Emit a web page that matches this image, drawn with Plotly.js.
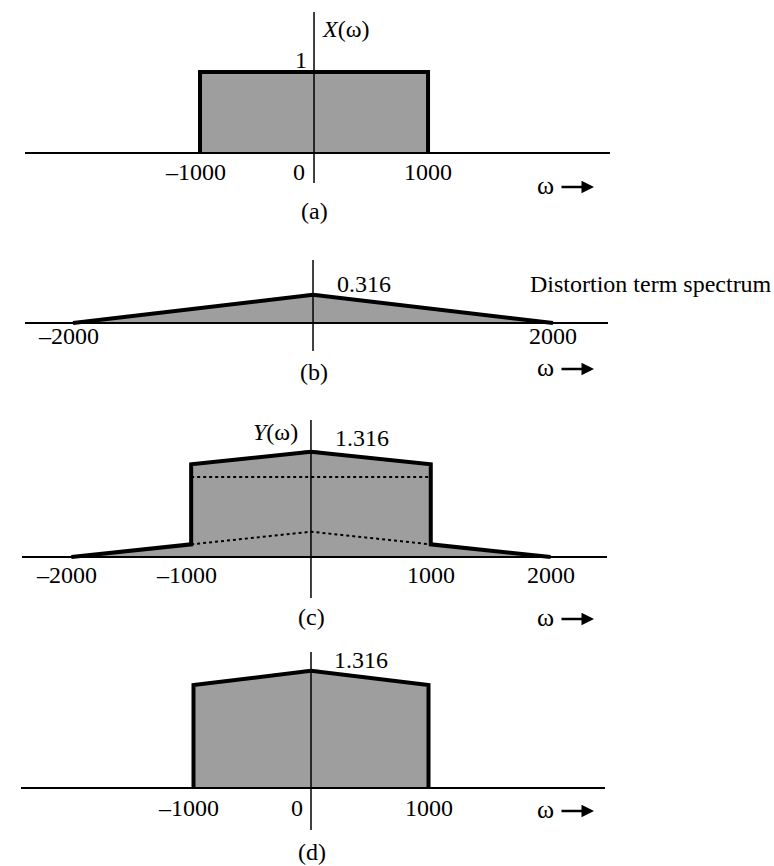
<!DOCTYPE html>
<html><head><meta charset="utf-8">
<script src="https://cdn.plot.ly/plotly-3.0.1.min.js"></script>
<style>html,body{margin:0;padding:0;background:#fff}</style>
</head><body><div id="chart" style="width:774px;height:866px"></div>
<script>
// ---- data ----
const omegaA = [-1000, -1000, 1000, 1000];
const magA   = [0, 1, 1, 0];
const omegaB = [-2000, 0, 2000];
const magB   = [0, 0.316, 0];
const omegaC = [-2000, -1000, -1000, 0, 1000, 1000, 2000];
const magC   = [0, 0.158, 1.158, 1.316, 1.158, 0.158, 0];
const omegaCTop = [-1000, 1000];
const magCTop   = [1, 1];
const omegaCTri = [-1000, 0, 1000];
const magCTri   = [0.158, 0.316, 0.158];
const omegaD = [-1000, -1000, 0, 1000, 1000];
const magD   = [0, 1.158, 1.316, 1.158, 0];
const ticksA = [-1000, 0, 1000],              tickTextA = ['\u20131000', '0', '1000'];
const ticksB = [-2000, 2000],                 tickTextB = ['\u20132000', '2000'];
const ticksC = [-2000, -1000, 1000, 2000],    tickTextC = ['\u20132000', '\u20131000', '1000', '2000'];
const ticksD = [-1000, 0, 1000],              tickTextD = ['\u20131000', '0', '1000'];
const peakA = 1, peakB = 0.316, peakC = 1.316, peakD = 1.316;

// ---- layout helpers ----
const W = 774, H = 866;
const px = x => x / W, py = y => 1 - y / H;
const FONT = {family: '"Liberation Serif","Times New Roman",serif', size: 24, color: '#000'};
const FILL = '#9e9e9e';

function ax(domPx, range, isY) {
  return {domain: isY ? [py(domPx[1]), py(domPx[0])] : [px(domPx[0]), px(domPx[1])],
          range: range, visible: false, fixedrange: true, showgrid: false, zeroline: false};
}
const layout = {
  width: W, height: H, margin: {l: 0, r: 0, t: 0, b: 0},
  paper_bgcolor: '#fff', plot_bgcolor: 'rgba(0,0,0,0)', showlegend: false, font: FONT,
  xaxis:  Object.assign(ax([25, 610], [-2535, 2596]), {anchor: 'y'}),  yaxis:  Object.assign(ax([12, 183], [-0.370, 1.741], true), {anchor: 'x'}),
  xaxis2: Object.assign(ax([25, 608], [-2400, 2458]), {anchor: 'y2'}), yaxis2: Object.assign(ax([260, 351], [-0.315, 0.708], true), {anchor: 'x2'}),
  xaxis3: Object.assign(ax([22, 607], [-2412, 2471]), {anchor: 'y3'}), yaxis3: Object.assign(ax([420, 598], [-0.5125, 1.7125], true), {anchor: 'x3'}),
  xaxis4: Object.assign(ax([21, 605], [-2468, 2502]), {anchor: 'y4'}), yaxis4: Object.assign(ax([652, 830], [-0.472, 1.528], true), {anchor: 'x4'}),
  shapes: [], annotations: []
};

const subs = [['x','y'],['x2','y2'],['x3','y3'],['x4','y4']];
const peaks = [null, peakB, peakC, peakD];
subs.forEach(([xr, yr], i) => {
  layout.shapes.push({type: 'line', layer: 'above', xref: xr + ' domain', yref: yr, x0: 0, x1: 1, y0: 0, y1: 0, line: {color: '#000', width: 2}});
  layout.shapes.push({type: 'line', layer: 'above', xref: xr, yref: yr + ' domain', x0: 0, x1: 0, y0: 0, y1: 1, line: {color: '#000', width: 1.5}});
  if (peaks[i] !== null) {
    layout.shapes.push({type: 'line', layer: 'above', xref: xr, yref: yr, xsizemode: 'pixel', xanchor: 0, x0: -8, x1: 8, y0: peaks[i], y1: peaks[i], line: {color: '#000', width: 2}});
  }
});

function tickAnn(xr, yr, vals, texts, yshift, zeroShift) {
  vals.forEach((v, k) => layout.annotations.push({
    xref: xr, yref: yr, x: v, y: 0, text: texts[k], showarrow: false,
    xanchor: 'center', yanchor: 'middle', yshift: yshift, xshift: v === 0 ? zeroShift : (v < 0 ? -5 : 0), font: FONT
  }));
}
tickAnn('x', 'y', ticksA, tickTextA, -19, -15);
tickAnn('x2', 'y2', ticksB, tickTextB, -13, 0);
tickAnn('x3', 'y3', ticksC, tickTextC, -18, 0);
tickAnn('x4', 'y4', ticksD, tickTextD, -20, -14);

function txt(x, y, text, anchor, size) {
  layout.annotations.push({xref: 'paper', yref: 'paper', x: px(x), y: py(y), text: text, showarrow: false,
    xanchor: anchor || 'center', yanchor: 'middle', font: Object.assign({}, FONT, size ? {size: size} : {})});
}
function omegaArrow(y) {
  txt(545, y - 1, '\u03c9', 'center', 26);
  layout.annotations.push({xref: 'paper', yref: 'paper', x: px(594), y: py(y + 1), text: '', showarrow: true,
    ax: -34, ay: 0, arrowhead: 2, arrowsize: 1, arrowwidth: 2.5, arrowcolor: '#000', standoff: 0, startstandoff: 0});
}
txt(320, 29, '<i>X</i>(\u03c9)', 'left');
txt(301, 60, String(peakA));
omegaArrow(186);
txt(314, 211, '(a)');
txt(335, 284, String(peakB), 'left');
txt(528, 284, 'Distortion term spectrum', 'left');
omegaArrow(368);
txt(314, 372, '(b)');
txt(300, 432, '<i>Y</i>(\u03c9)', 'right');
txt(333, 438, String(peakC), 'left');
txt(311, 617, '(c)');
omegaArrow(618);
txt(332, 660, String(peakD), 'left');
omegaArrow(810);
txt(312, 852, '(d)');

const outline = {color: '#000', width: 4};
const traces = [
  {x: omegaA, y: magA, xaxis: 'x', yaxis: 'y', mode: 'lines', fill: 'tozeroy', fillcolor: FILL, line: outline},
  {x: omegaB, y: magB, xaxis: 'x2', yaxis: 'y2', mode: 'lines', fill: 'tozeroy', fillcolor: FILL, line: outline},
  {x: omegaC, y: magC, xaxis: 'x3', yaxis: 'y3', mode: 'lines', fill: 'tozeroy', fillcolor: FILL, line: outline},
  {x: omegaCTop, y: magCTop, xaxis: 'x3', yaxis: 'y3', mode: 'lines', line: {color: '#000', width: 2, dash: 'dot'}},
  {x: omegaCTri, y: magCTri, xaxis: 'x3', yaxis: 'y3', mode: 'lines', line: {color: '#000', width: 2, dash: 'dot'}},
  {x: omegaD, y: magD, xaxis: 'x4', yaxis: 'y4', mode: 'lines', fill: 'tozeroy', fillcolor: FILL, line: outline}
];
Plotly.newPlot('chart', traces, layout, {staticPlot: true, displayModeBar: false});
</script></body></html>
